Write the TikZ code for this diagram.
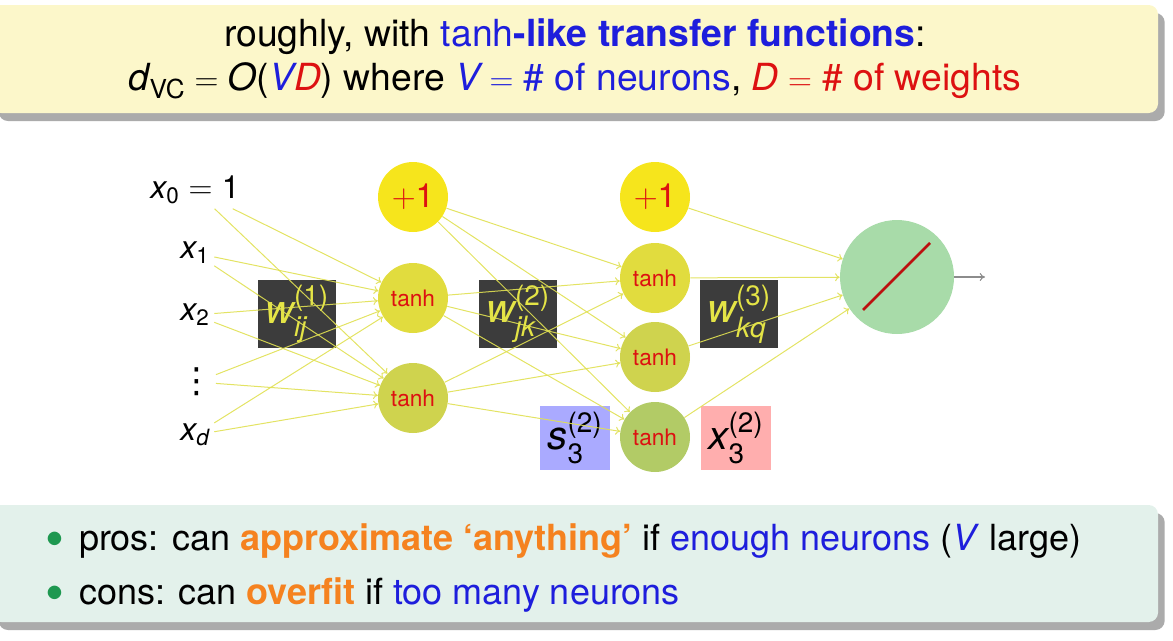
\documentclass[tikz,border=0pt]{standalone}
\usepackage{amsmath}
\usepackage{fontspec}
\setmainfont{TeX Gyre Heros}
\newfontfamily\symfont{DejaVu Sans}
\usetikzlibrary{arrows.meta,shadows}

\definecolor{topfill}{HTML}{FCF7CA}
\definecolor{botfill}{HTML}{E3F1EB}
\definecolor{vblue}{HTML}{1E1EDC}
\definecolor{dred}{HTML}{DD1111}
\definecolor{aorange}{HTML}{F5821F}
\definecolor{bgreen}{HTML}{1E9850}
\definecolor{biasyellow}{HTML}{F6E51C}
\definecolor{tanhA}{HTML}{E1DC3E}
\definecolor{tanhB}{HTML}{CFD34E}
\definecolor{tanhC}{HTML}{B2CB66}
\definecolor{outgreen}{HTML}{A8DBA9}
\definecolor{wgray}{HTML}{3C3C3C}
\definecolor{wyellow}{HTML}{E4E446}
\definecolor{linkyellow}{HTML}{E0E052}
\definecolor{sblue}{HTML}{AAAAFF}
\definecolor{xpink}{HTML}{FFAEAE}

\newcommand{\vv}[1]{\text{\itshape #1}}
\newcommand{\bul}{\textcolor{bgreen}{\raisebox{-0.2em}{\scalebox{1.5}{\textbullet}}}}

\begin{document}
\begin{tikzpicture}[
  x=0.75pt, y=-0.75pt,
  panel/.style={rounded corners=7pt, drop shadow={shadow xshift=5pt, shadow yshift=-6pt, opacity=.55, fill=black!60}},
  neuron/.style={circle, minimum size=52.5pt, inner sep=0pt, text=dred, font=\fontsize{17}{17}\selectfont},
  bias/.style={neuron, fill=biasyellow, font=\fontsize{25}{25}\selectfont},
  wbox/.style={rectangle, fill=wgray, minimum width=58.5pt, minimum height=51pt, inner sep=0pt, text=wyellow, font=\fontsize{30}{30}\selectfont},
  sigbox/.style={rectangle, minimum width=53pt, minimum height=48pt, inner sep=0pt, font=\fontsize{30}{30}\selectfont},
  invar/.style={font=\fontsize{24}{24}\selectfont},
  link/.style={draw=linkyellow, opacity=.9, line width=0.75pt, -{To[length=3.5pt,width=6pt]}}
]
\useasboundingbox (0,0) rectangle (1173,640);

% top panel
\node[panel, fill=topfill, minimum width=874.5pt, minimum height=81pt, align=center,
      font=\fontsize{28}{33}\selectfont] (head) at (575,59)
  {roughly, with \textcolor{vblue}{tanh\textbf{-like transfer functions}}:\\
   $\vv{d}_{\text{VC}} = \vv{O}\text{(}\textcolor{vblue}{\vv{V}}\textcolor{dred}{\vv{D}}\text{)}$ where
   \textcolor{vblue}{$\vv{V} =$ \# of neurons}, \textcolor{dred}{$\vv{D} =$ \# of weights}};

% weight and signal boxes
\node[wbox] (w1) at (297,314) {$\vv{w}^{\text{(1)}}_{\vv{ij}}$};
\node[wbox] (w2) at (518,314) {$\vv{w}^{\text{(2)}}_{\vv{jk}}$};
\node[wbox] (w3) at (739,314) {$\vv{w}^{\text{(3)}}_{\vv{kq}}$};
\node[sigbox, fill=sblue] (s3) at (575,438) {$\vv{s}^{\text{(2)}}_{\text{3}}$};
\node[sigbox, fill=xpink] (x3) at (736,438) {$\vv{x}^{\text{(2)}}_{\text{3}}$};

% inputs
\node[invar] (x0) at (195,190) {$\vv{x}_{\text{0}} = \text{1}$};
\node[invar] (x1) at (195,253) {$\vv{x}_{\text{1}}$};
\node[invar] (x2) at (195,315) {$\vv{x}_{\text{2}}$};
\node[invar, font=\fontsize{26}{26}\symfont, inner sep=1pt] (xv) at (197,382) {⋮};
\node[invar] (xd) at (195,435) {$\vv{x}_{\vv{d}}$};

% hidden layers
\node[bias] (b1) at (413,197) {$+\text{1}$};
\node[neuron, fill=tanhA] (h11) at (413,298) {tanh};
\node[neuron, fill=tanhB] (h12) at (413,398) {tanh};
\node[bias] (b2) at (655,197) {$+\text{1}$};
\node[neuron, fill=tanhA] (h21) at (655,278) {tanh};
\node[neuron, fill=tanhB] (h22) at (655,357) {tanh};
\node[neuron, fill=tanhC] (h23) at (655,437) {tanh};

% output
\node[circle, fill=outgreen, minimum size=85.5pt, inner sep=0pt] (out) at (897,277) {};
\draw[dred!85!black, line width=2pt] ([shift={(-34,33)}]out.center) -- ([shift={(33,-34)}]out.center);
\coordinate (y) at (985,277);
\draw[black!45, line width=0.8pt, -{To[length=4pt,width=6pt]}] (out) -- (y);

% connections
\foreach \i in {x0,x1,x2,xv,xd}
  \foreach \j in {h11,h12}
    \draw[link] (\i) -- (\j);
\foreach \i in {b1,h11,h12}
  \foreach \j in {h21,h22,h23}
    \draw[link] (\i) -- (\j);
\foreach \i in {b2,h21,h22,h23}
  \draw[link] (\i) -- (out);

% bottom panel
\node[panel, fill=botfill, minimum width=874.5pt, minimum height=87.75pt] (foot) at (575,563.5) {};
\node[anchor=base west, font=\fontsize{27}{27}\selectfont] (pros) at (41,550)
  {\bul\hspace{0.4em}pros: can \textcolor{aorange}{\textbf{approximate `anything'}} if \textcolor{vblue}{enough neurons} (\textcolor{vblue}{\textit{V}} large)};
\node[anchor=base west, font=\fontsize{27}{27}\selectfont] (cons) at (41,604)
  {\bul\hspace{0.4em}cons: can \textcolor{aorange}{\textbf{overfit}} if \textcolor{vblue}{too many neurons}};
\end{tikzpicture}
\end{document}
